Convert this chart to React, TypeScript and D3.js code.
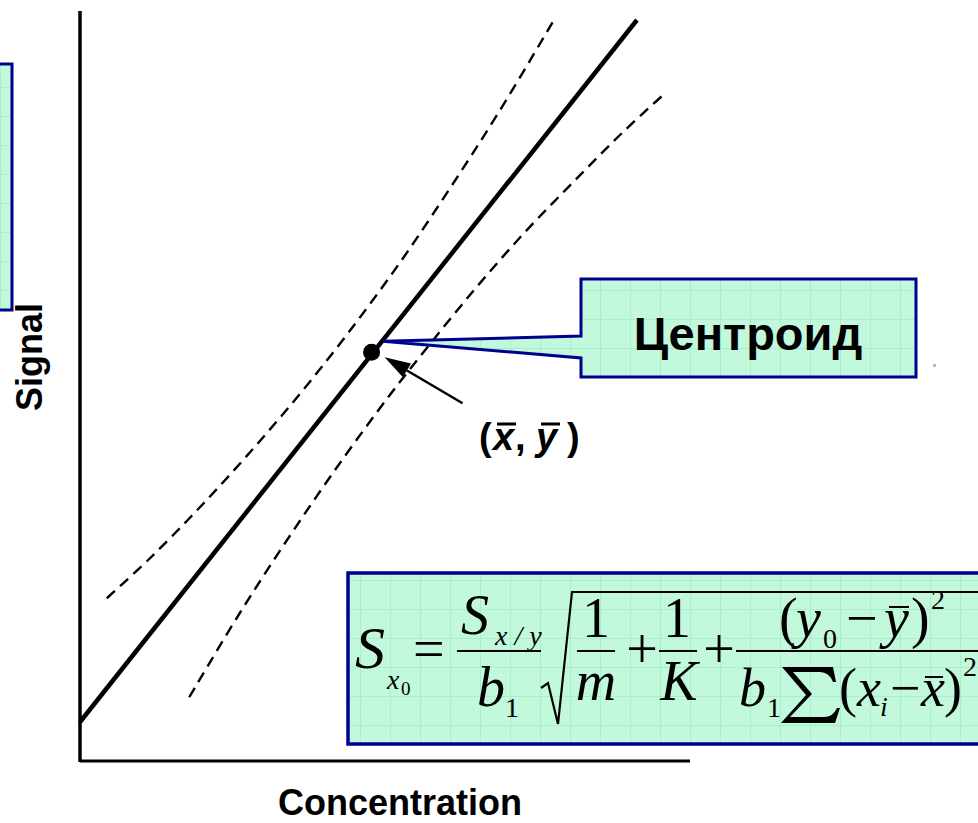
import React from 'react';
import * as d3 from 'd3';

const W = 978;
const H = 823;

// values are in % of the axis range (concentration, signal)
const fitLine: [number, number][] = [[0, 5.2], [91.3, 98.8]];
const centroid: [number, number] = [47.8, 54.5];
const upperBand: [number, number][] = [
  [4.4, 21.7], [11.3, 26.9], [19.5, 33.7], [27.8, 41.1], [36.0, 48.9],
  [43.8, 56.9], [52.4, 66.4], [60.6, 76.3], [68.8, 86.7], [77.7, 98.8]
];
const lowerBand: [number, number][] = [
  [17.9, 8.5], [26.1, 19.6], [34.3, 29.9], [42.5, 39.6], [50.7, 48.7],
  [56.3, 54.5], [64.5, 62.7], [72.7, 70.3], [81.0, 77.3], [89.2, 84.0], [95.6, 88.8]
];
const xLabel = 'Concentration';
const yLabel = 'Signal';
const calloutLabel = 'Центроид';

const SANS = '"Liberation Sans", Arial, Helvetica, sans-serif';
const SERIF = '"Liberation Serif", "Times New Roman", serif';
const NAVY = '#00008f';

const T: React.FC<any> = ({ x, y, s = 56, i = false, a = 'start', children }) => (
  <text x={x} y={y} fontFamily={SERIF} fontSize={s} fontStyle={i ? 'italic' : 'normal'} textAnchor={a} fill="#000">
    {children}
  </text>
);

const Bar: React.FC<{ x1: number; x2: number; y: number; w?: number }> = ({ x1, x2, y, w = 2 }) => (
  <line x1={x1} x2={x2} y1={y} y2={y} stroke="#000" strokeWidth={w} />
);

const Formula: React.FC = () => (
  <g>
    <T x={355} y={668} s={60} i>S</T>
    <T x={387} y={689} s={28} i>x</T>
    <T x={401} y={695} s={19}>0</T>
    <T x={413} y={668}>=</T>

    <T x={461} y={634} i>S</T>
    <T x={495} y={645} s={28} i>x / y</T>
    <Bar x1={457} x2={541} y={651} />
    <T x={477} y={706} i>b</T>
    <T x={505} y={717} s={28}>1</T>

    <path d="M541,688 L548,683 L558,724 L572,592 L978,592" fill="none" stroke="#000" strokeWidth={2.2} strokeLinejoin="miter" />

    <T x={596} y={637} a="middle">1</T>
    <Bar x1={577} x2={615} y={651} />
    <T x={596} y={700} a="middle" i>m</T>
    <T x={642} y={668} a="middle">+</T>
    <T x={677} y={637} a="middle">1</T>
    <Bar x1={659} x2={697} y={651} />
    <T x={679} y={700} a="middle" i>K</T>
    <T x={719} y={668} a="middle">+</T>

    <T x={779} y={637}>(</T>
    <T x={796} y={637} i>y</T>
    <T x={823} y={648} s={28}>0</T>
    <T x={846} y={637}>−</T>
    <T x={884} y={637} i>y</T>
    <Bar x1={889} x2={909} y={607} />
    <T x={911} y={637}>)</T>
    <T x={931} y={609} s={28}>2</T>
    <Bar x1={736} x2={978} y={651} />

    <T x={739} y={706} s={54} i>b</T>
    <T x={767} y={717} s={28}>1</T>
    <path
      d="M782,667 L833,667 L836,682 L833,682 Q829,672 820,672 L793,672 L812,694 L790,717 L824,717 Q833,717 837,708 L840,708 L835,723 L781,723 L806,695 Z"
      fill="#000"
    />
    <T x={839} y={706} s={54}>(</T>
    <T x={857} y={706} s={54} i>x</T>
    <T x={880} y={716} s={28} i>i</T>
    <T x={890} y={706} s={54}>−</T>
    <T x={921} y={706} s={54} i>x</T>
    <Bar x1={925} x2={943} y={677} />
    <T x={944} y={706} s={54}>)</T>
    <T x={963} y={676} s={28}>2</T>
  </g>
);

export default function App() {
  const x = d3.scaleLinear().domain([0, 100]).range([80, 690]);
  const y = d3.scaleLinear().domain([0, 100]).range([761, 11]);

  const curve = d3.line<[number, number]>()
    .x(d => x(d[0]))
    .y(d => y(d[1]))
    .curve(d3.curveCatmullRom);
  const straight = d3.line<[number, number]>().x(d => x(d[0])).y(d => y(d[1]));

  const cx = x(centroid[0]);
  const cy = y(centroid[1]);

  // arrow toward the centroid
  const ax0 = cx + 91, ay0 = cy + 51;
  const ax1 = cx + 13, ay1 = cy + 5;
  const ang = Math.atan2(ay1 - ay0, ax1 - ax0);
  const headL = 26, headW = 8;
  const hb = [ax1 - headL * Math.cos(ang), ay1 - headL * Math.sin(ang)];
  const head = [
    [ax1, ay1],
    [hb[0] + headW * Math.sin(ang), hb[1] - headW * Math.cos(ang)],
    [hb[0] - headW * Math.sin(ang), hb[1] + headW * Math.cos(ang)]
  ].map(p => p.join(',')).join(' ');

  const tipX = cx + 11, tipY = cy - 11;
  const callout = `M581,279 L916,279 L916,377 L581,377 L581,358 L${tipX},${tipY} L581,336 Z`;

  return (
    <svg width={W} height={H} style={{ position: 'absolute', left: 0, top: 0, background: '#fff' }}>
      <defs>
        <pattern id="grid" width={30} height={29} patternUnits="userSpaceOnUse">
          <rect width={30} height={29} fill="#c2f8dc" />
          <path d="M0,0.5 H30 M0.5,0 V29" stroke="#a9efcb" strokeWidth={1} />
        </pattern>
      </defs>

      {/* left box, mostly off the page */}
      <rect x={-10} y={64} width={22} height={246} fill="url(#grid)" stroke={NAVY} strokeWidth={3} />

      {/* axes */}
      <line x1={x(0)} x2={x(0)} y1={y(0) + 1} y2={y(100)} stroke="#000" strokeWidth={3.5} />
      <line x1={x(0)} x2={x(100)} y1={y(0)} y2={y(0)} stroke="#000" strokeWidth={3} />

      {/* confidence bands */}
      <path d={curve(upperBand) || ''} fill="none" stroke="#000" strokeWidth={2.4} strokeDasharray="11 7" />
      <path d={curve(lowerBand) || ''} fill="none" stroke="#000" strokeWidth={2.4} strokeDasharray="11 7" />

      {/* regression line */}
      <path d={straight(fitLine) || ''} fill="none" stroke="#000" strokeWidth={4.5} />

      {/* callout */}
      <path d={callout} fill="url(#grid)" stroke={NAVY} strokeWidth={3} strokeLinejoin="miter" />
      <text x={748} y={350} fontFamily={SANS} fontWeight="bold" fontSize={47} textAnchor="middle" fill="#000">
        {calloutLabel}
      </text>
      <rect x={933} y={364} width={3} height={3} fill="#bbb" />

      <circle cx={cx} cy={cy} r={8.5} fill="#000" />
      <line x1={ax0} y1={ay0} x2={hb[0]} y2={hb[1]} stroke="#000" strokeWidth={2.5} />
      <polygon points={head} fill="#000" />

      {/* (x̄, ȳ) */}
      <g fontFamily={SANS} fontWeight="bold" fontSize={38} fill="#000">
        <text x={479} y={450}>(</text>
        <text x={493} y={450} fontStyle="italic">x</text>
        <text x={515} y={450}>,</text>
        <text x={536} y={450} fontStyle="italic">y</text>
        <text x={567} y={450}>)</text>
      </g>
      <line x1={497} x2={516} y1={424} y2={424} stroke="#000" strokeWidth={3} />
      <line x1={541} x2={560} y1={424} y2={424} stroke="#000" strokeWidth={3} />

      {/* formula box */}
      <rect x={348} y={573} width={640} height={171} fill="url(#grid)" stroke={NAVY} strokeWidth={3.5} />
      <Formula />

      {/* axis titles */}
      <text x={400} y={815} fontFamily={SANS} fontWeight="bold" fontSize={36} textAnchor="middle" fill="#000">
        {xLabel}
      </text>
      <text transform="translate(42,357) rotate(-90)" fontFamily={SANS} fontWeight="bold" fontSize={36} textAnchor="middle" fill="#000">
        {yLabel}
      </text>
    </svg>
  );
}
